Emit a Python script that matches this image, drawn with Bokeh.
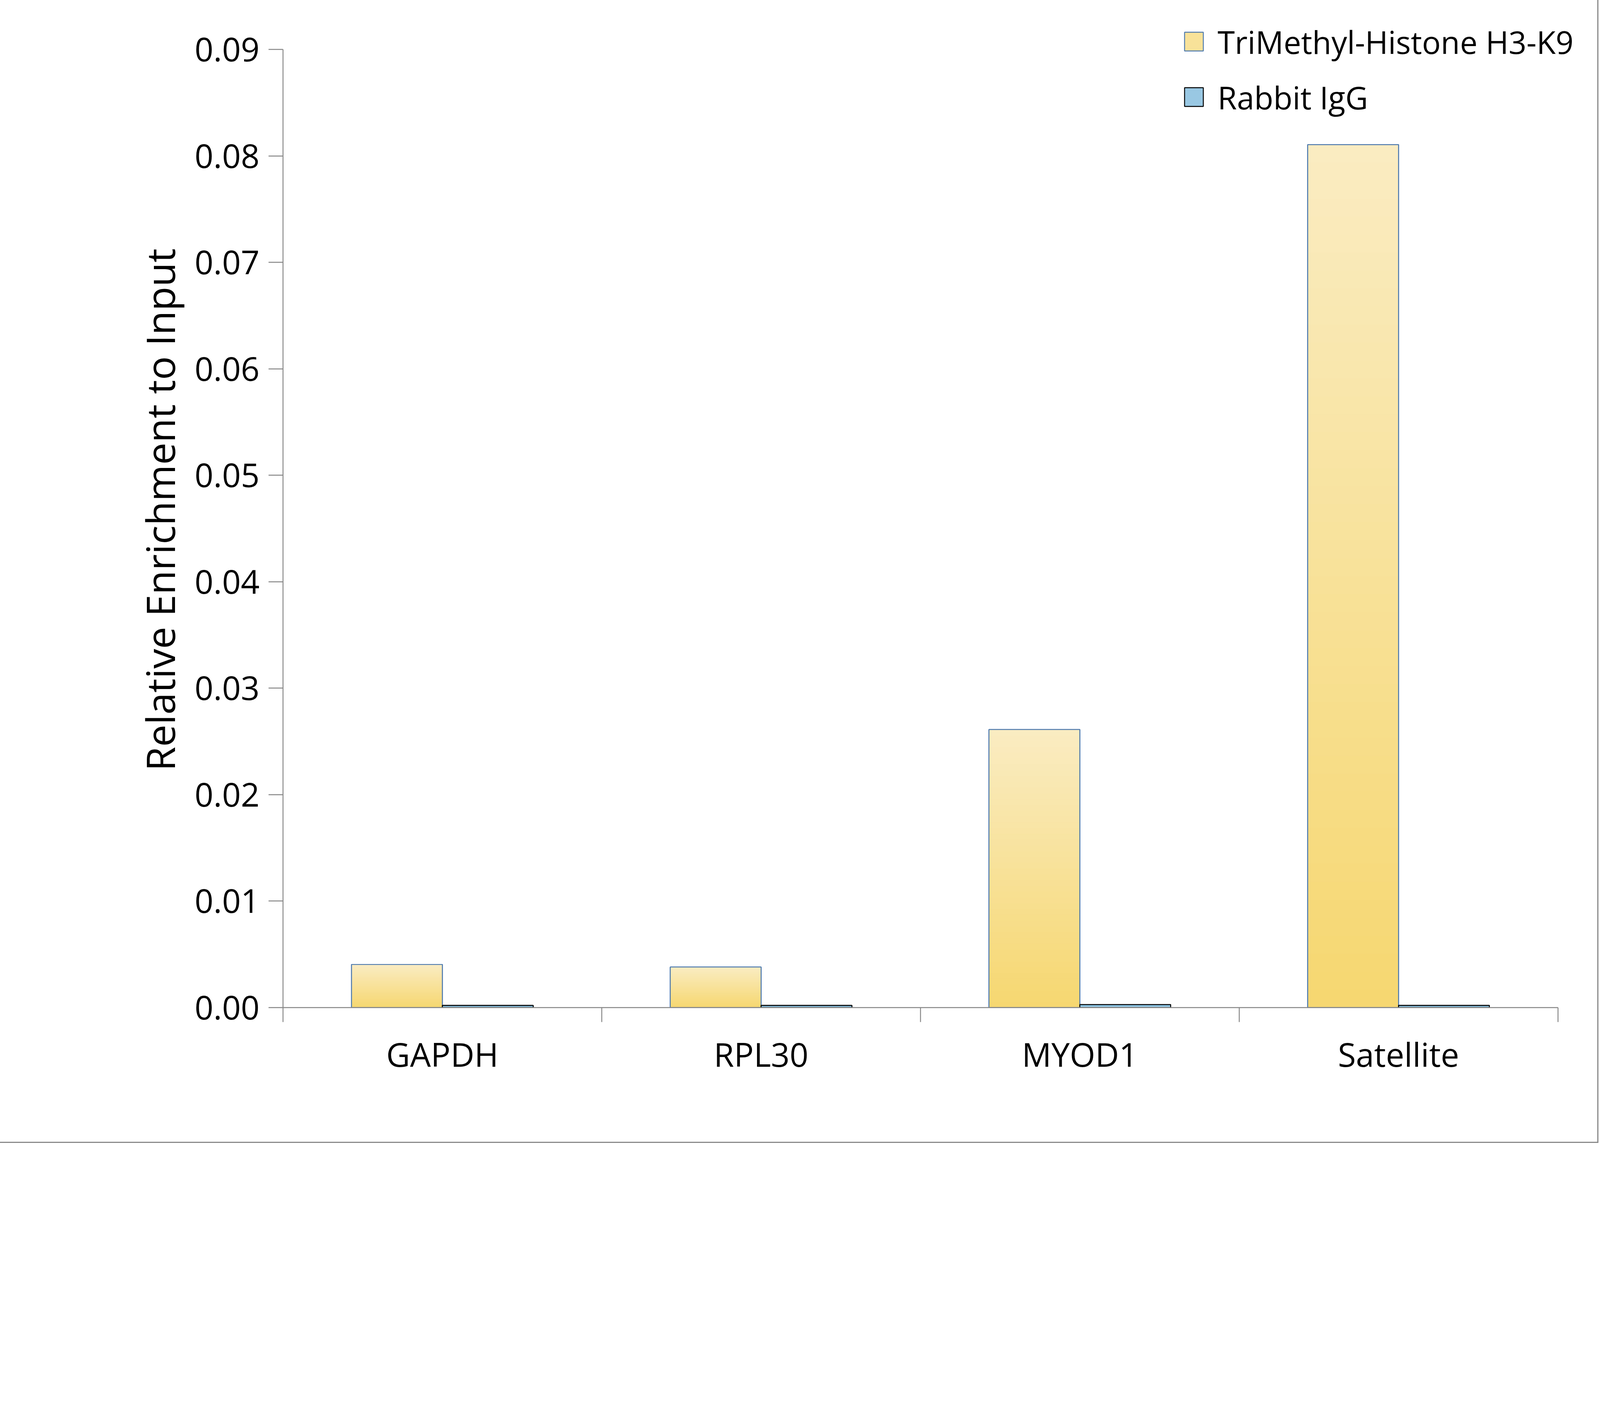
from bokeh.plotting import figure
from bokeh.models import (ColumnDataSource, Range1d, LinearAxis, FixedTicker,
                          NumeralTickFormatter, Legend, LegendItem)
from bokeh.transform import dodge
from bokeh.embed import file_html
from bokeh.resources import INLINE

# ---------------- data ----------------
categories = ["GAPDH", "RPL30", "MYOD1", "Satellite"]
series_names = ["TriMethyl-Histone H3-K9", "Rabbit IgG"]
trimethyl = [0.00405, 0.00381, 0.02612, 0.08106]
rabbit_igg = [0.00020, 0.00020, 0.00028, 0.00020]
y_ticks = [0.00, 0.01, 0.02, 0.03, 0.04, 0.05, 0.06, 0.07, 0.08, 0.09]
y_label = "Relative Enrichment to Input"

# ---------------- style ----------------
FONT = "Open Sans"
AXIS_GRAY = "#868686"
YEL_TOP, YEL_BOT, YEL_LINE = (250, 236, 194), (246, 215, 112), "#4F7BAF"
BLU_TOP, BLU_BOT, BLU_LINE = (116, 180, 216), (190, 221, 238), "#000000"
BAR_W = 0.285
OFFS = [-0.1425, 0.1425]
Y_VIEW_END = 0.093526  # head-room above the last tick so the legend is not clipped
X_VIEW_PAD = 0.08      # room on the right for the legend text

n_cat = len(categories)
centers = [i + 0.5 for i in range(n_cat)]        # category slot centres
bounds = [i for i in range(n_cat + 1)]            # category slot boundaries

W, H = 4084, 2918
p = figure(width=W, height=H, x_range=Range1d(0, n_cat + X_VIEW_PAD), y_range=Range1d(0, Y_VIEW_END),
           output_backend="svg", toolbar_location=None, x_axis_location=None,
           min_border_left=724, min_border_right=31, min_border_top=30, min_border_bottom=339)
p.styles = {"outline": "3px solid #8a8a8a", "outline-offset": "5px"}
p.outline_line_color = None
p.xgrid.visible = False
p.ygrid.visible = False
p.background_fill_color = "white"
p.border_fill_color = "white"


def hexc(c):
    return "#%02x%02x%02x" % tuple(int(round(v)) for v in c)


def gradient_source(vals, c_top, c_bot, n=48):
    xs, bottoms, tops, colors = [], [], [], []
    for xc, v in zip(centers, vals):
        for k in range(n):
            t = (k + 0.5) / n
            col = tuple(c_bot[i] + (c_top[i] - c_bot[i]) * t for i in range(3))
            xs.append(xc)
            bottoms.append(v * k / n)
            tops.append(v * (k + 1) / n)
            colors.append(hexc(col))
    return ColumnDataSource(dict(x=xs, bottom=bottoms, top=tops, color=colors))


series = [(trimethyl, YEL_TOP, YEL_BOT, YEL_LINE), (rabbit_igg, BLU_TOP, BLU_BOT, BLU_LINE)]
legend_items = []
for (vals, ct, cb, lc), off, name in zip(series, OFFS, series_names):
    mid = tuple((ct[i] + cb[i]) / 2 for i in range(3))
    osrc = ColumnDataSource(dict(x=centers, top=vals, cat=categories))
    # base bar (solid mid colour) -> also used for the legend swatch
    base = p.vbar(x=dodge("x", off), top="top", width=BAR_W, source=osrc,
                  fill_color=hexc(mid), line_color=lc, line_width=2.4)
    # vertical gradient fill on top of it
    gsrc = gradient_source(vals, ct, cb)
    p.vbar(x=dodge("x", off), bottom="bottom", top="top", width=BAR_W,
           source=gsrc, fill_color="color", line_color="color", line_width=1)
    # crisp outline on top
    p.vbar(x=dodge("x", off), top="top", width=BAR_W, source=osrc,
           fill_color=None, line_color=lc, line_width=2.4)
    legend_items.append(LegendItem(label=name, renderers=[base]))

# y axis
ya = p.yaxis[0]
ya.bounds = (y_ticks[0], y_ticks[-1])
ya.ticker = FixedTicker(ticks=y_ticks)
ya.formatter = NumeralTickFormatter(format="0.00")
ya.axis_line_color = AXIS_GRAY
ya.axis_line_width = 2.4
ya.major_tick_line_color = AXIS_GRAY
ya.major_tick_line_width = 2.4
ya.major_tick_out = 37
ya.major_tick_in = 0
ya.minor_tick_line_color = None
ya.major_label_text_font = FONT
ya.major_label_text_font_size = "84px"
ya.major_label_text_color = "black"
ya.major_label_standoff = 23
ya.axis_label = y_label
ya.axis_label_text_font = FONT
ya.axis_label_text_font_size = "101px"
ya.axis_label_text_font_style = "normal"
ya.axis_label_text_color = "black"
ya.axis_label_standoff = 17

# x axis: boundary ticks + axis line
tick_axis = LinearAxis(ticker=FixedTicker(ticks=bounds), bounds=(bounds[0], bounds[-1]),
                       major_label_overrides={b: "" for b in bounds},
                       axis_line_color=AXIS_GRAY, axis_line_width=2.4,
                       major_tick_line_color=AXIS_GRAY, major_tick_line_width=2.4,
                       major_tick_out=37, major_tick_in=0, minor_tick_line_color=None,
                       major_label_standoff=0, major_label_text_font_size="8px")
p.add_layout(tick_axis, "below")

# x axis: category names at slot centres
cat_axis = LinearAxis(ticker=FixedTicker(ticks=centers),
                      major_label_overrides={c: n for c, n in zip(centers, categories)},
                      axis_line_color=None, major_tick_line_color=None, minor_tick_line_color=None,
                      major_tick_out=0, major_tick_in=0, major_label_standoff=24,
                      major_label_text_font=FONT, major_label_text_font_size="84px",
                      major_label_text_color="black")
p.add_layout(cat_axis, "below")

legend = Legend(items=legend_items, location=(2302, 2272), orientation="vertical",
                border_line_color=None, background_fill_alpha=0, padding=0, margin=0,
                spacing=24, glyph_width=60, glyph_height=60, label_standoff=31,
                label_height=118, label_text_font=FONT, label_text_font_size="80px",
                label_text_color="black")
p.add_layout(legend)

open("out.html", "w").write(file_html(p, INLINE))
